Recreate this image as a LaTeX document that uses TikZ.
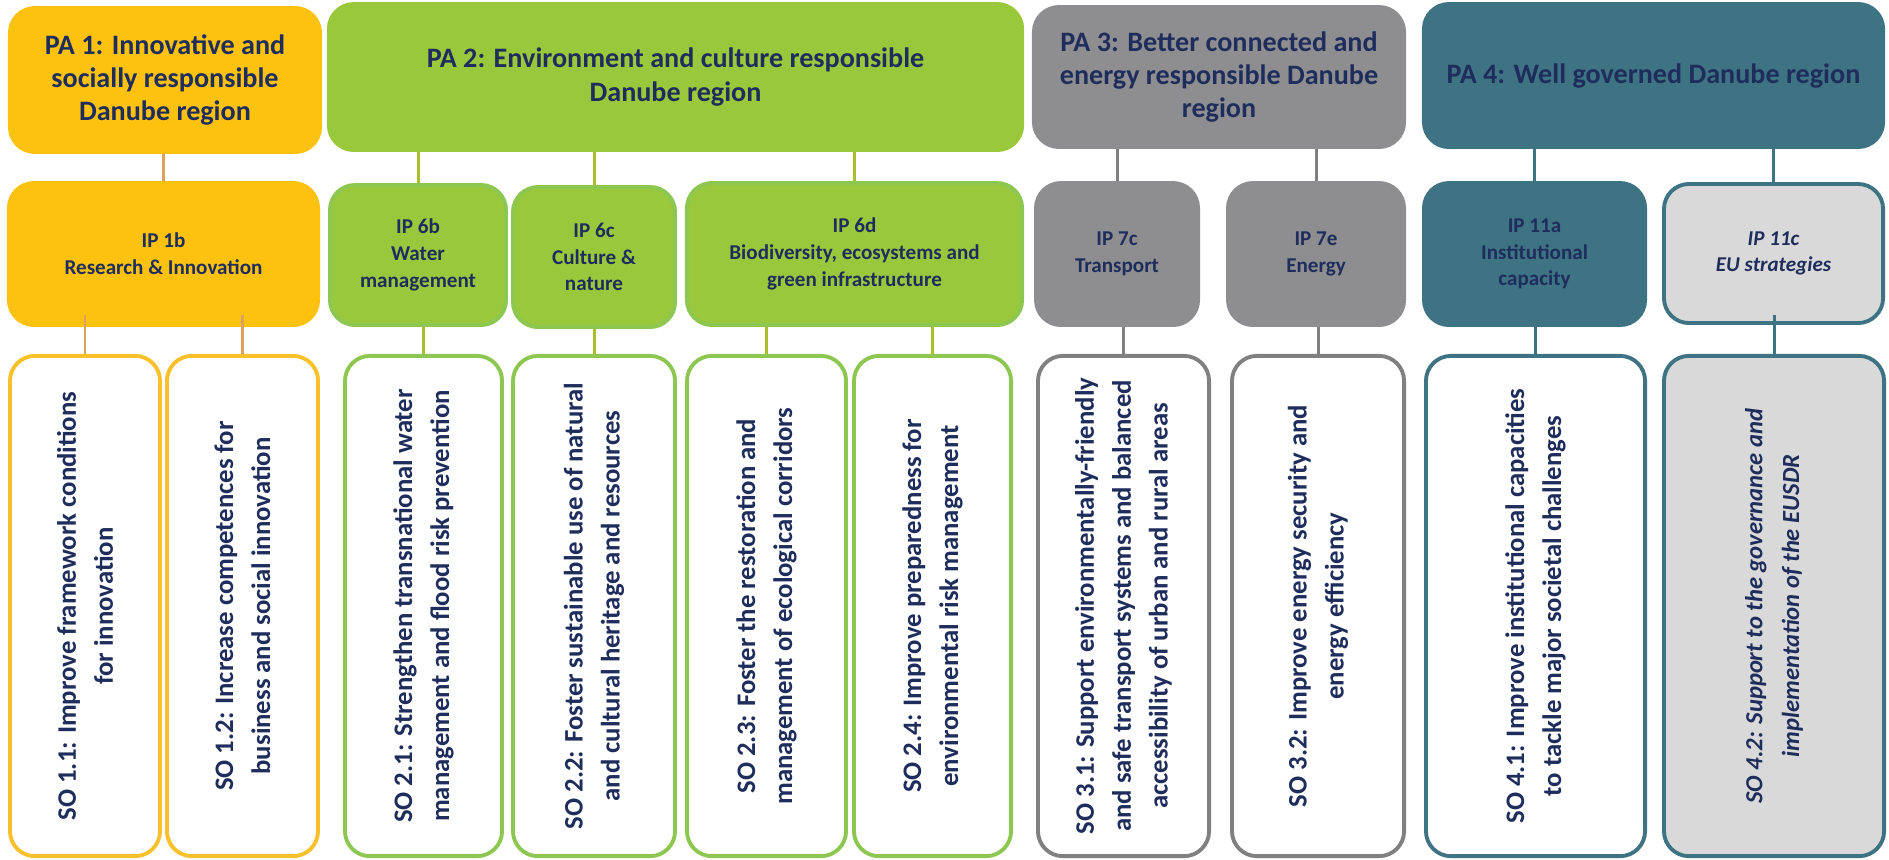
\documentclass[tikz,border=0pt]{standalone}
\usepackage{fontspec}
\setmainfont{Carlito}
\usepackage{xcolor}
\usepackage{tikz}
\usetikzlibrary{positioning}

\definecolor{navy}{HTML}{1F2D5C}
\definecolor{paYellow}{HTML}{FDC20F}
\definecolor{soYellow}{HTML}{F8C12B}
\definecolor{lnYellow}{HTML}{DCA05F}
\definecolor{paGreen}{HTML}{9AC83C}
\definecolor{soGreen}{HTML}{8DC752}
\definecolor{lnGreen}{HTML}{A8BE2C}
\definecolor{paGray}{HTML}{8E8E90}
\definecolor{soGray}{HTML}{808080}
\definecolor{paTeal}{HTML}{3E7383}
\definecolor{lightGray}{HTML}{D9D9D9}

\tikzset{
	box/.style={rectangle, rounded corners=0.25cm, align=center, text=navy, line width=1.1pt},
	pabox/.style={box, font=\fontsize{8}{9.4}\selectfont\bfseries},
	ipbox/.style={box, font=\fontsize{6}{7.6}\selectfont\bfseries, minimum height=1.42cm},
	sobox/.style={box, rotate=90, fill=white, minimum width=5.00cm, font=\fontsize{7.6}{10.5}\selectfont\bfseries},
	link/.style={line width=0.85pt}
}

\begin{document}
\begin{tikzpicture}[x=0.01cm,y=-0.01cm]
	\useasboundingbox (0,0) rectangle (1889,859);
	% priority axes
	\node[pabox,fill=paYellow,draw=paYellow,minimum width=3.10cm,minimum height=1.44cm] (pa1) at (165,80) {PA 1: Innovative and\\socially responsible\\Danube region};
	\node[pabox,fill=paGreen,draw=paGreen,minimum width=6.93cm,minimum height=1.46cm] (pa2) at (675.5,77) {PA 2: Environment and culture responsible\\Danube region};
	\node[pabox,fill=paGray,draw=paGray,minimum width=3.70cm,minimum height=1.40cm] (pa3) at (1219,77) {PA 3: Better connected and\\energy responsible Danube\\region};
	\node[pabox,fill=paTeal,draw=paTeal,minimum width=4.59cm,minimum height=1.43cm] (pa4) at (1653.5,75.5) {PA 4: Well governed Danube region};

	% investment priorities
	\node[ipbox,fill=paYellow,draw=paYellow,minimum width=3.09cm] (ip1b) at (163.5,254) {IP 1b\\Research \& Innovation};
	\node[ipbox,fill=paGreen,draw=soGreen,minimum width=1.76cm,minimum height=1.40cm] (ip6b) at (418,255) {IP 6b\\Water\\management};
	\node[ipbox,fill=paGreen,draw=soGreen,minimum width=1.62cm,minimum height=1.40cm] (ip6c) at (594,257) {IP 6c\\Culture \&\\nature};
	\node[ipbox,fill=paGreen,draw=soGreen,minimum width=3.35cm] (ip6d) at (854.5,254) {IP 6d\\Biodiversity, ecosystems and\\green infrastructure};
	\node[ipbox,fill=paGray,draw=paGray,minimum width=1.62cm] (ip7c) at (1117,254) {IP 7c\\Transport};
	\node[ipbox,fill=paGray,draw=paGray,minimum width=1.76cm] (ip7e) at (1316,254) {IP 7e\\Energy};
	\node[ipbox,fill=paTeal,draw=paTeal,minimum width=2.21cm] (ip11a) at (1534.5,254) {IP 11a\\Institutional\\capacity};
	\node[ipbox,fill=lightGray,draw=paTeal,minimum width=2.19cm,minimum height=1.39cm,font=\fontsize{6}{7.6}\selectfont\bfseries\itshape] (ip11c) at (1773.5,253.5) {IP 11c\\EU strategies};

	% specific objectives
	\node[sobox,draw=soYellow,minimum height=1.50cm] (so11) at (85,606) {SO 1.1: Improve framework conditions\\for innovation};
	\node[sobox,draw=soYellow,minimum height=1.51cm] (so12) at (242.5,606) {SO 1.2: Increase competences for\\business and social innovation};
	\node[sobox,draw=soGreen,minimum height=1.57cm] (so21) at (423.5,606) {SO 2.1: Strengthen transnational water\\management and flood risk prevention};
	\node[sobox,draw=soGreen,minimum height=1.62cm] (so22) at (594,606) {SO 2.2: Foster sustainable use of natural\\and cultural heritage and resources};
	\node[sobox,draw=soGreen,minimum height=1.59cm] (so23) at (766.5,606) {SO 2.3: Foster the restoration and\\management of ecological corridors};
	\node[sobox,draw=soGreen,minimum height=1.57cm] (so24) at (932.5,606) {SO 2.4: Improve preparedness for\\environmental risk management};
	\node[sobox,draw=soGray,minimum height=1.71cm] (so31) at (1123.5,606) {SO 3.1: Support environmentally-friendly\\and safe transport systems and balanced\\accessibility of urban and rural areas};
	\node[sobox,draw=soGray,minimum height=1.72cm] (so32) at (1318,606) {SO 3.2: Improve energy security and\\energy efficiency};
	\node[sobox,draw=paTeal,minimum height=2.19cm] (so41) at (1535.5,606) {SO 4.1: Improve institutional capacities\\to tackle major societal challenges};
	\node[sobox,draw=paTeal,fill=lightGray,minimum height=2.20cm,font=\fontsize{7}{10.5}\selectfont\bfseries\itshape] (so42) at (1774,606) {SO 4.2: Support to the governance and\\implementation of the EUSDR};

	% connectors
	\draw[link,lnYellow] (ip1b.north) -- (ip1b.north |- pa1.south);
	\draw[link,lnYellow] (so11.east) -- ([yshift=0.12cm]so11.east |- ip1b.south);
	\draw[link,lnYellow] (so12.east) -- ([yshift=0.12cm]so12.east |- ip1b.south);
	\foreach \ip in {ip6b,ip6c,ip6d}
		\draw[link,lnGreen] (\ip.north) -- (\ip.north |- pa2.south);
	\draw[link,lnGreen] (so21.east) -- (so21.east |- ip6b.south);
	\draw[link,lnGreen] (so22.east) -- (so22.east |- ip6c.south);
	\draw[link,lnGreen] (so23.east) -- (so23.east |- ip6d.south);
	\draw[link,lnGreen] (so24.east) -- (so24.east |- ip6d.south);
	\draw[link,soGray] (ip7c.north) -- (ip7c.north |- pa3.south);
	\draw[link,soGray] (ip7e.north) -- (ip7e.north |- pa3.south);
	\draw[link,soGray] (so31.east) -- (so31.east |- ip7c.south);
	\draw[link,soGray] (so32.east) -- (so32.east |- ip7e.south);
	\draw[link,paTeal] (ip11a.north) -- (ip11a.north |- pa4.south);
	\draw[link,paTeal] (ip11c.north) -- (ip11c.north |- pa4.south);
	\draw[link,paTeal] (so41.east) -- (so41.east |- ip11a.south);
	\draw[link,paTeal] (so42.east) -- ([yshift=0.1cm]so42.east |- ip11c.south);
\end{tikzpicture}
\end{document}
